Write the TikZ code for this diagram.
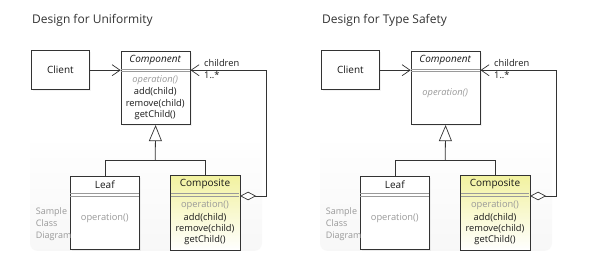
\documentclass[tikz,border=0pt]{standalone}
\usepackage{fontspec}
\setmainfont{Open Sans}
\usetikzlibrary{arrows.meta,shadows}
\definecolor{ln}{HTML}{333333}
\definecolor{gtxt}{HTML}{999999}
\definecolor{sepc}{HTML}{9A9A9A}
\definecolor{yel}{HTML}{F2F2A0}
\tikzset{
  cls/.style={draw=ln, line width=0.8pt, fill=white, rectangle, inner sep=0pt, anchor=north west,
    drop shadow={opacity=0.10, shadow xshift=1.5pt, shadow yshift=-1.5pt}},
  yshade/.style={top color=yel, bottom color=white},
  ttl/.style={font=\fontsize{12}{14}\selectfont, anchor=west, text=ln, inner sep=0pt},
  cname/.style={font=\fontsize{10}{12}\selectfont, inner sep=0pt, text=black!90},
  meth/.style={font=\fontsize{9.3}{11}\selectfont, inner sep=0pt, text=black!90},
  gmeth/.style={meth, text=gtxt},
  lbl/.style={meth, anchor=west},
  conn/.style={draw=ln, line width=0.8pt},
  seprule/.style={draw=sepc, line width=0.5pt},
  barb/.style={-{Straight Barb[length=8pt,width=11pt,line width=0.7pt]}},
  panel/.style={top color=white, bottom color=black!3, rounded corners=8pt},
  note/.style={font=\fontsize{9}{12}\selectfont, text=gtxt, align=left, anchor=west, inner sep=0pt},
}
\newcommand\umlpart[2]{%
  \shade[panel] (30,135) rectangle (262,251);
  \node[ttl] (head) at (32,20) {#1};
  \node[cls, minimum width=58.6pt, minimum height=39pt] (client) at (30.7,50.3) {};
  \node[cname] (clienttext) at (client.center) {Client};
  \node[cls, minimum width=69pt, minimum height=73.6pt] (comp) at (120.7,50.7) {};
  \node[cname, font=\fontsize{10}{12}\selectfont\itshape] (compname) at (155.2,60.2) {Component};
  \draw[seprule] (120.7,69.3) -- (189.7,69.3);
  \draw[seprule] (120.7,71.5) -- (189.7,71.5);
  #2
  \node[cls, minimum width=69pt, minimum height=73.6pt] (leaf) at (70.3,175.7) {};
  \node[cname] (leafname) at (104.8,184.5) {Leaf};
  \draw[seprule] (70.3,193.3) -- (139.3,193.3);
  \draw[seprule] (70.3,196) -- (139.3,196);
  \node[gmeth] (leafop) at (104.8,218.3) {operation()};
  \node[cls, minimum width=68.6pt, minimum height=73.6pt] (compo) at (170.7,175.7) {};
  \shade[yshade] (compo.north west) rectangle (compo.south east);
  \draw[conn] (compo.north west) rectangle (compo.south east);
  \node[cname] (componame) at (205,184.5) {Composite};
  \draw[seprule] (170.7,193.3) -- (239.3,193.3);
  \draw[seprule] (170.7,196) -- (239.3,196);
  \node[gmeth] (compoop) at (205,205) {operation()};
  \node[meth] (compoadd) at (205,217.5) {add(child)};
  \node[meth] (comporem) at (205,228.7) {remove(child)};
  \node[meth] (compoget) at (205,240) {getChild()};
  \node[note] (sample) at (35.7,223.9) {Sample\\Class\\Diagram};
  % connectors
  \draw[conn, barb] (client.east) -- (client.east -| comp.west);
  \coordinate (junc) at (155.2,160.3);
  \draw[conn] (leaf.north) |- (junc) -| (compo.north);
  \draw[conn, -{Triangle[length=16pt,width=13pt,line width=0.7pt,fill=white]}] (junc) -- (comp.south);
  \coordinate (aggs) at ([yshift=-20.3pt]compo.north east);
  \coordinate (chin) at (comp.east |- client.east);
  \draw[conn, {Diamond[length=16pt,width=8.5pt,line width=0.7pt,fill=white]}-{Straight Barb[length=8pt,width=11pt,line width=0.7pt]}]
     (aggs) -- ++(26.4,0) |- (chin);
  \node[lbl] (childlbl) at (204,63.5) {children};
  \node[lbl] (multlbl) at (204,75.5) {1..*};
}
\begin{document}
\begin{tikzpicture}[x=1pt, y=-1pt]
  \useasboundingbox[fill=white] (0,0) rectangle (590,280);
  \begin{scope}[name prefix=L-]
    \umlpart{Design for Uniformity}{%
      \node[gmeth, font=\fontsize{9.3}{11}\selectfont\itshape] (compop) at (155.2,80) {operation()};
      \node[meth] (compadd) at (155.2,92.2) {add(child)};
      \node[meth] (comprem) at (155.2,103.6) {remove(child)};
      \node[meth] (compget) at (155.2,115) {getChild()};
    }
  \end{scope}
  \begin{scope}[xshift=290pt, name prefix=R-]
    \umlpart{Design for Type Safety}{%
      \node[gmeth, font=\fontsize{9.3}{11}\selectfont\itshape] (compop) at (155.2,93.3) {operation()};
    }
  \end{scope}
\end{tikzpicture}
\end{document}
